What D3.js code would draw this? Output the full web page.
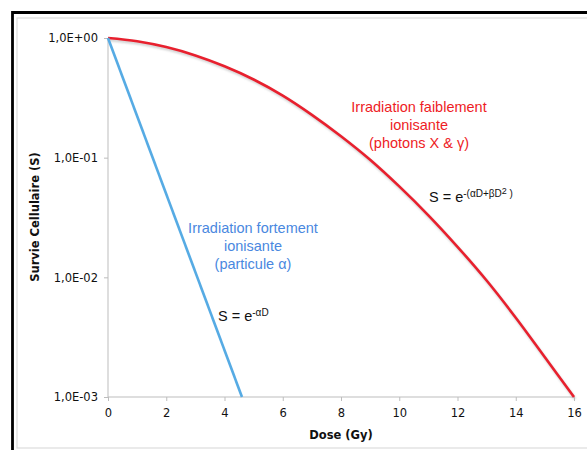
<!DOCTYPE html>
<html><head><meta charset="utf-8">
<script src="https://cdn.jsdelivr.net/npm/d3@7"></script>
<style>body{margin:0;background:#fff;} svg{display:block;}</style>
</head><body>
<script>
// Data
const doseTicks = [0, 2, 4, 6, 8, 10, 12, 14, 16];
const survivalTicks = [1, 0.1, 0.01, 0.001];
const survivalTickLabels = ["1,0E+00", "1,0E-01", "1,0E-02", "1,0E-03"];
// high-LET (alpha) : straight line on log scale
const alphaDose = [0, 4.6];
const alphaSurvival = [1, 0.001];
// low-LET (X & gamma) : shouldered curve
const photonDose = [0, 1, 2, 3, 4, 5, 6, 7, 8, 9, 10, 11, 12, 13, 14, 15, 16];
const photonSurvival = [1, 0.94, 0.84, 0.715, 0.58, 0.45, 0.33, 0.228, 0.151, 0.096, 0.0575, 0.033, 0.018, 0.0094, 0.0046, 0.00215, 0.001];

const W = 587, H = 450;
const svg = d3.select("body").append("svg").attr("width", W).attr("height", H);

// frame
svg.append("rect").attr("x", 17).attr("y", 18).attr("width", 600).attr("height", 430)
  .attr("fill", "#fff").attr("stroke", "#dcdcdc").attr("stroke-width", 1.2);
svg.append("path").attr("d", "M12.5,460 L12.5,12.5 L600,12.5")
  .attr("fill", "none").attr("stroke", "#000").attr("stroke-width", 2.8);

const x = d3.scaleLinear().domain([0, 16]).range([108, 574]);
const y = d3.scaleLog().domain([0.001, 1]).range([397, 38]);

const axisColor = "#bdbdbd";
const fontTick = "'DejaVu Sans', Verdana, sans-serif";

// x axis
const xAxis = svg.append("g").attr("transform", "translate(0,397)")
  .call(d3.axisBottom(x).tickValues(doseTicks).tickSize(4).tickPadding(8).tickFormat(d3.format("d")));
xAxis.select(".domain").attr("stroke", axisColor).attr("d", `M${x(0)},0H${x(16)}`);
xAxis.selectAll(".tick line").attr("stroke", axisColor);
xAxis.selectAll(".tick text").attr("fill", "#111").style("font-family", fontTick).style("font-size", "11.5px");

// y axis
const yAxis = svg.append("g").attr("transform", "translate(108,0)")
  .call(d3.axisLeft(y).tickValues(survivalTicks).tickSize(4).tickPadding(6)
    .tickFormat(d => survivalTickLabels[survivalTicks.indexOf(d)]));
yAxis.select(".domain").attr("stroke", axisColor).attr("d", `M0,${y(1)}V${y(0.001)}`);
yAxis.selectAll(".tick line").attr("stroke", axisColor);
yAxis.selectAll(".tick text").attr("fill", "#111").style("font-family", fontTick).style("font-size", "11.5px");

// axis titles
svg.append("text").attr("x", 341).attr("y", 439).attr("text-anchor", "middle")
  .style("font-family", fontTick).style("font-size", "11.5px").style("font-weight", "bold")
  .attr("fill", "#111").text("Dose (Gy)");
svg.append("text").attr("transform", "translate(39,217) rotate(-90)").attr("text-anchor", "middle")
  .style("font-family", fontTick).style("font-size", "11.5px").style("font-weight", "bold")
  .attr("fill", "#111").text("Survie Cellulaire (S)");

// shadow filter
const defs = svg.append("defs");
const f = defs.append("filter").attr("id", "sh").attr("x", "-10%").attr("y", "-10%").attr("width", "120%").attr("height", "120%");
f.append("feGaussianBlur").attr("stdDeviation", 1);

const line = d3.line().x(d => x(d[0])).y(d => y(d[1]));
const photonPts = photonDose.map((d, i) => [d, photonSurvival[i]]);
const alphaPts = alphaDose.map((d, i) => [d, alphaSurvival[i]]);
const curve = d3.line().x(d => x(d[0])).y(d => y(d[1])).curve(d3.curveCatmullRom.alpha(0.5));

svg.append("path").attr("d", curve(photonPts)).attr("fill", "none")
  .attr("stroke", "#aaa").attr("stroke-width", 2.5).attr("opacity", 0.6)
  .attr("transform", "translate(1,2)").attr("filter", "url(#sh)");
svg.append("path").attr("d", curve(photonPts)).attr("fill", "none")
  .attr("stroke", "#e8202e").attr("stroke-width", 2.6);
svg.append("path").attr("d", line(alphaPts)).attr("fill", "none")
  .attr("stroke", "#56abe4").attr("stroke-width", 2.6);

// annotations
const fontAnn = "'Liberation Sans', Arial, Helvetica, sans-serif";
const red = "#ee1c25", blue = "#4a88e0";
function block(lines, cx, y0, color) {
  const t = svg.append("text").attr("text-anchor", "middle").attr("fill", color)
    .style("font-family", fontAnn).style("font-size", "14.5px");
  lines.forEach((s, i) => t.append("tspan").attr("x", cx).attr("y", y0 + i * 18).text(s));
}
block(["Irradiation faiblement", "ionisante", "(photons X & γ)"], 419, 112, red);
block(["Irradiation fortement", "ionisante", "(particule α)"], 253, 233, blue);

function formula(x0, y0, exp) {
  const t = svg.append("text").attr("x", x0).attr("y", y0).attr("fill", "#111")
    .style("font-family", fontAnn).style("font-size", "14.5px");
  t.append("tspan").text("S = e");
  exp(t);
}
formula(429, 202, t => {
  t.append("tspan").attr("dy", -5).style("font-size", "10px").text("-(αD+βD");
  t.append("tspan").attr("dy", -3).style("font-size", "9px").text("2");
  t.append("tspan").attr("dy", 3).style("font-size", "10px").text(" )");
});
formula(218, 321, t => {
  t.append("tspan").attr("dy", -5).style("font-size", "10px").text("-αD");
});
</script>
</body></html>
